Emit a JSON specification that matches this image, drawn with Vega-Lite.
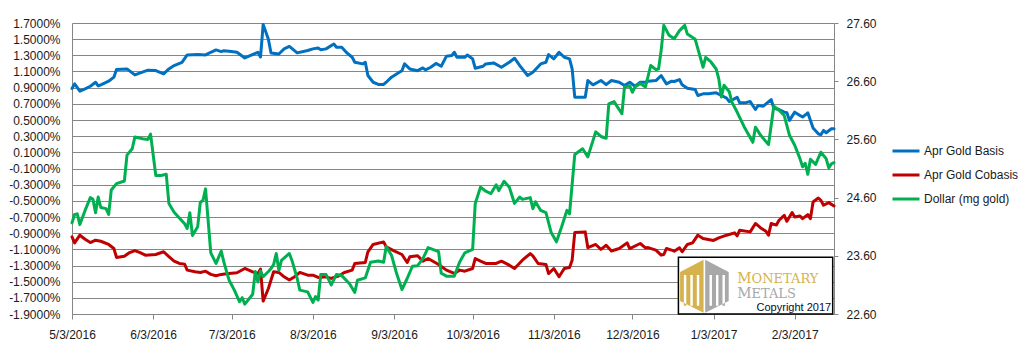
{
  "$schema": "https://vega.github.io/schema/vega-lite/v6.json",
  "width": 762,
  "height": 291,
  "autosize": {"type": "none"},
  "padding": {"left": 72, "top": 23, "right": 191, "bottom": 34},
  "background": "white",
  "config": {
    "view": {"stroke": null},
    "axis": {"labelFont": "Liberation Sans", "labelFontSize": 12, "labelColor": "#1a1a1a", "domainColor": "#868686", "tickColor": "#868686", "gridColor": "#868686", "gridOpacity": 1, "title": null}
  },
  "datasets": {
    "basis": [
      {"date":"2016-05-03","v":0.89},{"date":"2016-05-04","v":0.947},{"date":"2016-05-06","v":0.856},{"date":"2016-05-08","v":0.885},{"date":"2016-05-10","v":0.918},{"date":"2016-05-12","v":0.967},{"date":"2016-05-13","v":0.922},{"date":"2016-05-14","v":0.935},{"date":"2016-05-17","v":0.98},{"date":"2016-05-19","v":1.03},{"date":"2016-05-20","v":1.124},{"date":"2016-05-24","v":1.132},{"date":"2016-05-27","v":1.058},{"date":"2016-06-01","v":1.116},{"date":"2016-06-04","v":1.112},{"date":"2016-06-07","v":1.07},{"date":"2016-06-09","v":1.132},{"date":"2016-06-11","v":1.173},{"date":"2016-06-14","v":1.214},{"date":"2016-06-16","v":1.305},{"date":"2016-06-20","v":1.309},{"date":"2016-06-23","v":1.305},{"date":"2016-06-25","v":1.338},{"date":"2016-06-27","v":1.367},{"date":"2016-06-29","v":1.346},{"date":"2016-06-30","v":1.358},{"date":"2016-07-02","v":1.35},{"date":"2016-07-05","v":1.338},{"date":"2016-07-08","v":1.268},{"date":"2016-07-10","v":1.297},{"date":"2016-07-13","v":1.338},{"date":"2016-07-14","v":1.28},{"date":"2016-07-15","v":1.68},{"date":"2016-07-17","v":1.5},{"date":"2016-07-18","v":1.33},{"date":"2016-07-21","v":1.317},{"date":"2016-07-23","v":1.38},{"date":"2016-07-25","v":1.41},{"date":"2016-07-28","v":1.33},{"date":"2016-08-01","v":1.36},{"date":"2016-08-03","v":1.38},{"date":"2016-08-05","v":1.391},{"date":"2016-08-06","v":1.37},{"date":"2016-08-08","v":1.38},{"date":"2016-08-11","v":1.44},{"date":"2016-08-12","v":1.4},{"date":"2016-08-14","v":1.4},{"date":"2016-08-16","v":1.33},{"date":"2016-08-18","v":1.276},{"date":"2016-08-19","v":1.214},{"date":"2016-08-22","v":1.194},{"date":"2016-08-23","v":1.214},{"date":"2016-08-24","v":1.05},{"date":"2016-08-26","v":0.967},{"date":"2016-08-28","v":0.94},{"date":"2016-08-30","v":0.94},{"date":"2016-08-31","v":0.967},{"date":"2016-09-02","v":1.03},{"date":"2016-09-05","v":1.09},{"date":"2016-09-06","v":1.11},{"date":"2016-09-07","v":1.194},{"date":"2016-09-09","v":1.132},{"date":"2016-09-12","v":1.11},{"date":"2016-09-14","v":1.144},{"date":"2016-09-15","v":1.12},{"date":"2016-09-17","v":1.153},{"date":"2016-09-19","v":1.2},{"date":"2016-09-21","v":1.165},{"date":"2016-09-23","v":1.29},{"date":"2016-09-25","v":1.297},{"date":"2016-09-26","v":1.338},{"date":"2016-09-27","v":1.276},{"date":"2016-09-30","v":1.276},{"date":"2016-10-01","v":1.305},{"date":"2016-10-03","v":1.256},{"date":"2016-10-04","v":1.14},{"date":"2016-10-07","v":1.165},{"date":"2016-10-08","v":1.194},{"date":"2016-10-11","v":1.206},{"date":"2016-10-14","v":1.153},{"date":"2016-10-17","v":1.214},{"date":"2016-10-19","v":1.264},{"date":"2016-10-21","v":1.173},{"date":"2016-10-24","v":1.05},{"date":"2016-10-26","v":1.09},{"date":"2016-10-29","v":1.194},{"date":"2016-10-31","v":1.214},{"date":"2016-11-01","v":1.309},{"date":"2016-11-03","v":1.256},{"date":"2016-11-05","v":1.338},{"date":"2016-11-07","v":1.276},{"date":"2016-11-09","v":1.256},{"date":"2016-11-10","v":1.132},{"date":"2016-11-11","v":0.782},{"date":"2016-11-15","v":0.782},{"date":"2016-11-16","v":0.988},{"date":"2016-11-18","v":0.935},{"date":"2016-11-21","v":0.988},{"date":"2016-11-23","v":0.938},{"date":"2016-11-25","v":0.988},{"date":"2016-11-28","v":0.967},{"date":"2016-11-30","v":0.926},{"date":"2016-12-02","v":0.967},{"date":"2016-12-04","v":0.918},{"date":"2016-12-06","v":0.967},{"date":"2016-12-08","v":0.967},{"date":"2016-12-09","v":0.98},{"date":"2016-12-12","v":0.988},{"date":"2016-12-14","v":1.05},{"date":"2016-12-16","v":0.947},{"date":"2016-12-18","v":0.98},{"date":"2016-12-19","v":0.976},{"date":"2016-12-21","v":1.0},{"date":"2016-12-22","v":0.935},{"date":"2016-12-24","v":0.893},{"date":"2016-12-27","v":0.877},{"date":"2016-12-28","v":0.803},{"date":"2016-12-30","v":0.824},{"date":"2017-01-01","v":0.824},{"date":"2017-01-04","v":0.836},{"date":"2017-01-06","v":0.803},{"date":"2017-01-08","v":0.77},{"date":"2017-01-09","v":0.728},{"date":"2017-01-12","v":0.782},{"date":"2017-01-13","v":0.712},{"date":"2017-01-15","v":0.712},{"date":"2017-01-17","v":0.728},{"date":"2017-01-19","v":0.63},{"date":"2017-01-20","v":0.68},{"date":"2017-01-22","v":0.671},{"date":"2017-01-25","v":0.753},{"date":"2017-01-26","v":0.646},{"date":"2017-01-28","v":0.63},{"date":"2017-01-30","v":0.597},{"date":"2017-01-31","v":0.589},{"date":"2017-02-01","v":0.495},{"date":"2017-02-03","v":0.597},{"date":"2017-02-05","v":0.556},{"date":"2017-02-06","v":0.536},{"date":"2017-02-08","v":0.589},{"date":"2017-02-10","v":0.4},{"date":"2017-02-12","v":0.33},{"date":"2017-02-13","v":0.317},{"date":"2017-02-14","v":0.371},{"date":"2017-02-15","v":0.342},{"date":"2017-02-17","v":0.392},{"date":"2017-02-18","v":0.392}
    ],
    "cobasis": [
      {"date":"2016-05-03","v":-0.946},{"date":"2016-05-04","v":-1.02},{"date":"2016-05-06","v":-0.925},{"date":"2016-05-08","v":-0.975},{"date":"2016-05-10","v":-1.016},{"date":"2016-05-12","v":-0.987},{"date":"2016-05-14","v":-1.0},{"date":"2016-05-17","v":-1.04},{"date":"2016-05-19","v":-1.09},{"date":"2016-05-20","v":-1.2},{"date":"2016-05-23","v":-1.185},{"date":"2016-05-25","v":-1.14},{"date":"2016-05-27","v":-1.115},{"date":"2016-05-29","v":-1.14},{"date":"2016-05-31","v":-1.172},{"date":"2016-06-04","v":-1.164},{"date":"2016-06-07","v":-1.13},{"date":"2016-06-09","v":-1.19},{"date":"2016-06-11","v":-1.246},{"date":"2016-06-13","v":-1.275},{"date":"2016-06-15","v":-1.283},{"date":"2016-06-16","v":-1.357},{"date":"2016-06-19","v":-1.378},{"date":"2016-06-21","v":-1.386},{"date":"2016-06-23","v":-1.37},{"date":"2016-06-25","v":-1.41},{"date":"2016-06-27","v":-1.427},{"date":"2016-06-29","v":-1.41},{"date":"2016-07-01","v":-1.403},{"date":"2016-07-05","v":-1.39},{"date":"2016-07-08","v":-1.337},{"date":"2016-07-11","v":-1.378},{"date":"2016-07-13","v":-1.399},{"date":"2016-07-14","v":-1.345},{"date":"2016-07-15","v":-1.74},{"date":"2016-07-17","v":-1.584},{"date":"2016-07-19","v":-1.378},{"date":"2016-07-21","v":-1.386},{"date":"2016-07-23","v":-1.44},{"date":"2016-07-25","v":-1.48},{"date":"2016-07-27","v":-1.44},{"date":"2016-07-29","v":-1.386},{"date":"2016-08-01","v":-1.42},{"date":"2016-08-03","v":-1.42},{"date":"2016-08-05","v":-1.448},{"date":"2016-08-08","v":-1.44},{"date":"2016-08-10","v":-1.46},{"date":"2016-08-13","v":-1.427},{"date":"2016-08-15","v":-1.386},{"date":"2016-08-18","v":-1.357},{"date":"2016-08-19","v":-1.275},{"date":"2016-08-23","v":-1.263},{"date":"2016-08-24","v":-1.13},{"date":"2016-08-26","v":-1.04},{"date":"2016-08-30","v":-1.008},{"date":"2016-08-31","v":-1.07},{"date":"2016-09-03","v":-1.12},{"date":"2016-09-06","v":-1.164},{"date":"2016-09-08","v":-1.263},{"date":"2016-09-09","v":-1.193},{"date":"2016-09-12","v":-1.18},{"date":"2016-09-14","v":-1.246},{"date":"2016-09-16","v":-1.213},{"date":"2016-09-20","v":-1.288},{"date":"2016-09-23","v":-1.357},{"date":"2016-09-26","v":-1.398},{"date":"2016-09-28","v":-1.357},{"date":"2016-09-30","v":-1.37},{"date":"2016-10-03","v":-1.337},{"date":"2016-10-04","v":-1.213},{"date":"2016-10-06","v":-1.246},{"date":"2016-10-08","v":-1.275},{"date":"2016-10-12","v":-1.275},{"date":"2016-10-14","v":-1.246},{"date":"2016-10-17","v":-1.296},{"date":"2016-10-19","v":-1.337},{"date":"2016-10-22","v":-1.234},{"date":"2016-10-25","v":-1.152},{"date":"2016-10-26","v":-1.18},{"date":"2016-10-28","v":-1.275},{"date":"2016-10-31","v":-1.288},{"date":"2016-11-01","v":-1.4},{"date":"2016-11-03","v":-1.337},{"date":"2016-11-05","v":-1.44},{"date":"2016-11-07","v":-1.337},{"date":"2016-11-09","v":-1.325},{"date":"2016-11-10","v":-1.234},{"date":"2016-11-11","v":-0.893},{"date":"2016-11-15","v":-0.884},{"date":"2016-11-16","v":-1.08},{"date":"2016-11-19","v":-1.04},{"date":"2016-11-21","v":-1.1},{"date":"2016-11-23","v":-1.049},{"date":"2016-11-25","v":-1.12},{"date":"2016-11-28","v":-1.09},{"date":"2016-12-01","v":-1.02},{"date":"2016-12-02","v":-1.09},{"date":"2016-12-06","v":-1.028},{"date":"2016-12-08","v":-1.082},{"date":"2016-12-09","v":-1.078},{"date":"2016-12-12","v":-1.11},{"date":"2016-12-14","v":-1.172},{"date":"2016-12-15","v":-1.164},{"date":"2016-12-16","v":-1.09},{"date":"2016-12-18","v":-1.11},{"date":"2016-12-19","v":-1.123},{"date":"2016-12-21","v":-1.082},{"date":"2016-12-22","v":-1.13},{"date":"2016-12-24","v":-1.04},{"date":"2016-12-26","v":-1.02},{"date":"2016-12-28","v":-0.925},{"date":"2016-12-30","v":-0.966},{"date":"2017-01-03","v":-0.99},{"date":"2017-01-05","v":-0.958},{"date":"2017-01-08","v":-0.925},{"date":"2017-01-11","v":-0.896},{"date":"2017-01-12","v":-0.933},{"date":"2017-01-13","v":-0.864},{"date":"2017-01-17","v":-0.884},{"date":"2017-01-19","v":-0.78},{"date":"2017-01-21","v":-0.835},{"date":"2017-01-23","v":-0.876},{"date":"2017-01-24","v":-0.925},{"date":"2017-01-25","v":-0.78},{"date":"2017-01-27","v":-0.8},{"date":"2017-01-28","v":-0.74},{"date":"2017-01-30","v":-0.679},{"date":"2017-01-31","v":-0.753},{"date":"2017-02-02","v":-0.646},{"date":"2017-02-03","v":-0.7},{"date":"2017-02-05","v":-0.687},{"date":"2017-02-06","v":-0.72},{"date":"2017-02-08","v":-0.67},{"date":"2017-02-09","v":-0.72},{"date":"2017-02-10","v":-0.514},{"date":"2017-02-12","v":-0.465},{"date":"2017-02-13","v":-0.494},{"date":"2017-02-14","v":-0.555},{"date":"2017-02-16","v":-0.522},{"date":"2017-02-18","v":-0.563}
    ],
    "dollar": [
      {"date":"2016-05-03","v":24.165},{"date":"2016-05-04","v":24.31},{"date":"2016-05-05","v":24.32},{"date":"2016-05-06","v":24.136},{"date":"2016-05-08","v":24.38},{"date":"2016-05-10","v":24.6},{"date":"2016-05-11","v":24.57},{"date":"2016-05-12","v":24.34},{"date":"2016-05-13","v":24.61},{"date":"2016-05-14","v":24.43},{"date":"2016-05-16","v":24.41},{"date":"2016-05-17","v":24.31},{"date":"2016-05-18","v":24.73},{"date":"2016-05-20","v":24.84},{"date":"2016-05-23","v":24.885},{"date":"2016-05-24","v":25.33},{"date":"2016-05-26","v":25.44},{"date":"2016-05-27","v":25.64},{"date":"2016-05-30","v":25.61},{"date":"2016-06-01","v":25.6},{"date":"2016-06-02","v":25.69},{"date":"2016-06-04","v":24.98},{"date":"2016-06-06","v":24.98},{"date":"2016-06-08","v":25.0},{"date":"2016-06-09","v":24.5},{"date":"2016-06-11","v":24.35},{"date":"2016-06-15","v":24.15},{"date":"2016-06-16","v":24.07},{"date":"2016-06-17","v":24.34},{"date":"2016-06-18","v":23.95},{"date":"2016-06-20","v":24.1},{"date":"2016-06-21","v":24.52},{"date":"2016-06-22","v":24.55},{"date":"2016-06-23","v":24.75},{"date":"2016-06-25","v":23.65},{"date":"2016-06-27","v":23.47},{"date":"2016-06-29","v":23.68},{"date":"2016-06-30","v":23.49},{"date":"2016-07-02","v":23.18},{"date":"2016-07-04","v":23.01},{"date":"2016-07-06","v":22.81},{"date":"2016-07-07","v":22.88},{"date":"2016-07-08","v":22.77},{"date":"2016-07-11","v":22.94},{"date":"2016-07-12","v":23.33},{"date":"2016-07-13","v":23.15},{"date":"2016-07-14","v":23.34},{"date":"2016-07-15","v":23.24},{"date":"2016-07-17","v":23.33},{"date":"2016-07-18","v":23.38},{"date":"2016-07-19","v":23.45},{"date":"2016-07-20","v":23.64},{"date":"2016-07-21","v":23.35},{"date":"2016-07-22","v":23.52},{"date":"2016-07-25","v":23.64},{"date":"2016-07-26","v":23.52},{"date":"2016-07-28","v":23.21},{"date":"2016-07-29","v":23.01},{"date":"2016-08-01","v":22.98},{"date":"2016-08-03","v":22.8},{"date":"2016-08-04","v":22.9},{"date":"2016-08-05","v":22.84},{"date":"2016-08-06","v":23.28},{"date":"2016-08-08","v":23.28},{"date":"2016-08-10","v":23.1},{"date":"2016-08-12","v":23.28},{"date":"2016-08-14","v":23.26},{"date":"2016-08-17","v":23.12},{"date":"2016-08-19","v":22.97},{"date":"2016-08-20","v":23.18},{"date":"2016-08-23","v":23.22},{"date":"2016-08-25","v":23.49},{"date":"2016-08-28","v":23.51},{"date":"2016-08-30","v":23.49},{"date":"2016-08-31","v":23.76},{"date":"2016-09-02","v":23.61},{"date":"2016-09-04","v":23.29},{"date":"2016-09-06","v":23.02},{"date":"2016-09-08","v":23.21},{"date":"2016-09-10","v":23.42},{"date":"2016-09-12","v":23.43},{"date":"2016-09-14","v":23.55},{"date":"2016-09-16","v":23.74},{"date":"2016-09-20","v":23.67},{"date":"2016-09-21","v":23.3},{"date":"2016-09-23","v":23.25},{"date":"2016-09-26","v":23.25},{"date":"2016-09-28","v":23.49},{"date":"2016-09-29","v":23.57},{"date":"2016-09-30","v":23.65},{"date":"2016-10-03","v":23.71},{"date":"2016-10-04","v":24.5},{"date":"2016-10-06","v":24.78},{"date":"2016-10-08","v":24.71},{"date":"2016-10-10","v":24.67},{"date":"2016-10-12","v":24.82},{"date":"2016-10-13","v":24.72},{"date":"2016-10-15","v":24.88},{"date":"2016-10-17","v":24.78},{"date":"2016-10-19","v":24.5},{"date":"2016-10-21","v":24.61},{"date":"2016-10-22","v":24.57},{"date":"2016-10-25","v":24.6},{"date":"2016-10-26","v":24.41},{"date":"2016-10-27","v":24.53},{"date":"2016-10-29","v":24.38},{"date":"2016-10-31","v":24.34},{"date":"2016-11-02","v":24.0},{"date":"2016-11-04","v":23.84},{"date":"2016-11-06","v":24.1},{"date":"2016-11-08","v":24.38},{"date":"2016-11-09","v":24.32},{"date":"2016-11-11","v":25.34},{"date":"2016-11-14","v":25.44},{"date":"2016-11-16","v":25.3},{"date":"2016-11-19","v":25.73},{"date":"2016-11-21","v":25.65},{"date":"2016-11-23","v":25.62},{"date":"2016-11-24","v":26.21},{"date":"2016-11-26","v":26.25},{"date":"2016-11-29","v":26.04},{"date":"2016-11-30","v":26.5},{"date":"2016-12-02","v":26.52},{"date":"2016-12-03","v":26.41},{"date":"2016-12-04","v":26.5},{"date":"2016-12-06","v":26.56},{"date":"2016-12-08","v":26.5},{"date":"2016-12-10","v":26.87},{"date":"2016-12-12","v":26.8},{"date":"2016-12-13","v":26.81},{"date":"2016-12-14","v":27.13},{"date":"2016-12-15","v":27.56},{"date":"2016-12-17","v":27.39},{"date":"2016-12-19","v":27.33},{"date":"2016-12-21","v":27.47},{"date":"2016-12-23","v":27.56},{"date":"2016-12-24","v":27.41},{"date":"2016-12-27","v":27.32},{"date":"2016-12-28","v":27.16},{"date":"2016-12-30","v":26.84},{"date":"2016-12-31","v":27.01},{"date":"2017-01-02","v":26.93},{"date":"2017-01-04","v":26.81},{"date":"2017-01-05","v":26.64},{"date":"2017-01-06","v":26.33},{"date":"2017-01-07","v":26.53},{"date":"2017-01-09","v":26.42},{"date":"2017-01-10","v":26.24},{"date":"2017-01-12","v":26.07},{"date":"2017-01-15","v":25.79},{"date":"2017-01-18","v":25.55},{"date":"2017-01-19","v":25.81},{"date":"2017-01-21","v":25.67},{"date":"2017-01-24","v":25.51},{"date":"2017-01-25","v":25.84},{"date":"2017-01-26","v":26.17},{"date":"2017-01-28","v":26.1},{"date":"2017-01-30","v":26.01},{"date":"2017-02-01","v":25.67},{"date":"2017-02-03","v":25.5},{"date":"2017-02-05","v":25.27},{"date":"2017-02-06","v":25.13},{"date":"2017-02-07","v":25.19},{"date":"2017-02-08","v":25.0},{"date":"2017-02-09","v":25.26},{"date":"2017-02-11","v":25.17},{"date":"2017-02-12","v":25.28},{"date":"2017-02-13","v":25.38},{"date":"2017-02-15","v":25.27},{"date":"2017-02-16","v":25.11},{"date":"2017-02-17","v":25.18},{"date":"2017-02-18","v":25.2}
    ]
  },
  "encoding": {
    "x": {
      "type": "temporal",
      "scale": {"domain": [{"year": 2016, "month": 5, "date": 3}, {"year": 2017, "month": 2, "date": 18}]},
      "axis": {
        "values": [
          {"year": 2016, "month": 5, "date": 3}, {"year": 2016, "month": 6, "date": 3}, {"year": 2016, "month": 7, "date": 3},
          {"year": 2016, "month": 8, "date": 3}, {"year": 2016, "month": 9, "date": 3}, {"year": 2016, "month": 10, "date": 3},
          {"year": 2016, "month": 11, "date": 3}, {"year": 2016, "month": 12, "date": 3}, {"year": 2017, "month": 1, "date": 3},
          {"year": 2017, "month": 2, "date": 3}
        ],
        "format": "%-m/%-d/%Y",
        "grid": false,
        "tickSize": 5,
        "labelPadding": 10,
        "labelFlush": false,
        "labelOverlap": false
      }
    }
  },
  "layer": [
    {
      "encoding": {
        "y": {
          "field": "v", "type": "quantitative",
          "scale": {"domain": [-1.9, 1.7], "nice": false, "zero": false},
          "axis": {
            "values": [-1.9, -1.7, -1.5, -1.3, -1.1, -0.9, -0.7, -0.5, -0.3, -0.1, 0.1, 0.3, 0.5, 0.7, 0.9, 1.1, 1.3, 1.5, 1.7],
            "labelExpr": "(datum.value < 0 ? '-' : '') + format(abs(datum.value), '.4f') + '%'",
            "grid": true,
            "ticks": false,
            "labelPadding": 12,
            "labelFlush": false,
            "labelOverlap": false
          }
        }
      },
      "layer": [
        {
          "data": {"name": "basis", "format": {"parse": {"date": "date:'%Y-%m-%d'"}}},
          "mark": {"type": "line", "strokeWidth": 3, "strokeJoin": "round", "strokeCap": "round"},
          "encoding": {
            "x": {"field": "date"},
            "color": {
              "datum": "Apr Gold Basis",
              "scale": {"domain": ["Apr Gold Basis", "Apr Gold Cobasis", "Dollar (mg gold)"], "range": ["#0070C0", "#C00000", "#00B050"]},
              "legend": {
                "orient": "none", "legendX": 819, "legendY": 113, "title": null, "padding": 0,
                "symbolType": "stroke", "symbolSize": 729, "symbolStrokeWidth": 3,
                "labelFont": "Liberation Sans", "labelFontSize": 12, "labelColor": "#1a1a1a",
                "labelOffset": 3, "rowPadding": 3
              }
            }
          }
        },
        {
          "data": {"name": "cobasis", "format": {"parse": {"date": "date:'%Y-%m-%d'"}}},
          "mark": {"type": "line", "strokeWidth": 3, "strokeJoin": "round", "strokeCap": "round"},
          "encoding": {
            "x": {"field": "date"},
            "color": {"datum": "Apr Gold Cobasis"}
          }
        }
      ]
    },
    {
      "data": {"name": "dollar", "format": {"parse": {"date": "date:'%Y-%m-%d'"}}},
      "mark": {"type": "line", "strokeWidth": 3, "strokeJoin": "round", "strokeCap": "round"},
      "encoding": {
        "x": {"field": "date"},
        "y": {
          "field": "v", "type": "quantitative",
          "scale": {"domain": [22.6, 27.6], "nice": false, "zero": false},
          "axis": {
            "orient": "right",
            "values": [22.6, 23.6, 24.6, 25.6, 26.6, 27.6],
            "format": ".2f",
            "grid": false,
            "tickSize": 4,
            "labelPadding": 8,
            "labelFlush": false
          }
        },
        "color": {"datum": "Dollar (mg gold)"}
      }
    },
    {
      "data": {"values": [{"k": 1}]},
      "encoding": {
        "y": {"type": "quantitative", "scale": {"domain": [-1.9, 1.7], "nice": false, "zero": false}, "axis": null}
      },
      "layer": [
        {
          "mark": {"type": "rect", "fill": "white", "stroke": "black", "strokeWidth": 1.5},
          "encoding": {
            "x": {"datum": {"year": 2016, "month": 12, "date": 20, "hours": 14}},
            "x2": {"datum": {"year": 2017, "month": 2, "date": 17, "hours": 12}},
            "y": {"datum": -1.199},
            "y2": {"datum": -1.9}
          }
        },
        {
          "mark": {"type": "point", "filled": true, "opacity": 1, "size": 2916, "strokeWidth": 0, "color": "#D6B24E",
            "shape": "M-0.03,-0.98 L-0.9,-0.53 L-0.9,0.55 L-0.03,0.98 Z M-0.76,-0.42 L-0.67,-0.42 L-0.67,0.72 L-0.76,0.72 Z M-0.52,-0.42 L-0.43,-0.42 L-0.43,0.72 L-0.52,0.72 Z M-0.28,-0.42 L-0.19,-0.42 L-0.19,0.72 L-0.28,0.72 Z"},
          "encoding": {
            "x": {"datum": {"year": 2016, "month": 12, "date": 30, "hours": 12}},
            "y": {"datum": -1.557}
          }
        },
        {
          "mark": {"type": "point", "filled": true, "opacity": 1, "size": 2916, "strokeWidth": 0, "color": "#A8A8A8",
            "shape": "M0.03,-0.98 L0.9,-0.53 L0.9,0.55 L0.03,0.98 Z M0.19,-0.42 L0.19,0.72 L0.28,0.72 L0.28,-0.42 Z M0.43,-0.42 L0.43,0.72 L0.52,0.72 L0.52,-0.42 Z M0.67,-0.42 L0.67,0.72 L0.76,0.72 L0.76,-0.42 Z"},
          "encoding": {
            "x": {"datum": {"year": 2016, "month": 12, "date": 30, "hours": 12}},
            "y": {"datum": -1.557}
          }
        },
        {
          "mark": {"type": "text", "text": "M", "font": "DejaVu Serif", "fontSize": 14, "color": "#D6B24E", "align": "left", "baseline": "alphabetic"},
          "encoding": {
            "x": {"datum": {"year": 2017, "month": 1, "date": 12, "hours": 2}},
            "y": {"datum": -1.52}
          }
        },
        {
          "mark": {"type": "text", "text": "ONETARY", "font": "DejaVu Serif", "fontSize": 13, "color": "#D6B24E", "align": "left", "baseline": "alphabetic"},
          "encoding": {
            "x": {"datum": {"year": 2017, "month": 1, "date": 17, "hours": 12}},
            "y": {"datum": -1.52}
          }
        },
        {
          "mark": {"type": "text", "text": "M", "font": "DejaVu Serif", "fontSize": 14, "color": "#A8A8A8", "align": "left", "baseline": "alphabetic"},
          "encoding": {
            "x": {"datum": {"year": 2017, "month": 1, "date": 12, "hours": 2}},
            "y": {"datum": -1.705}
          }
        },
        {
          "mark": {"type": "text", "text": "ETALS", "font": "DejaVu Serif", "fontSize": 13, "color": "#A8A8A8", "align": "left", "baseline": "alphabetic"},
          "encoding": {
            "x": {"datum": {"year": 2017, "month": 1, "date": 17, "hours": 12}},
            "y": {"datum": -1.705}
          }
        },
        {
          "mark": {"type": "text", "text": "Copyright 2017", "font": "Liberation Sans", "fontSize": 11, "color": "#0a0a2a", "align": "left", "baseline": "alphabetic"},
          "encoding": {
            "x": {"datum": {"year": 2017, "month": 1, "date": 19, "hours": 10}},
            "y": {"datum": -1.858}
          }
        }
      ]
    }
  ],
  "resolve": {"scale": {"y": "independent"}}
}
